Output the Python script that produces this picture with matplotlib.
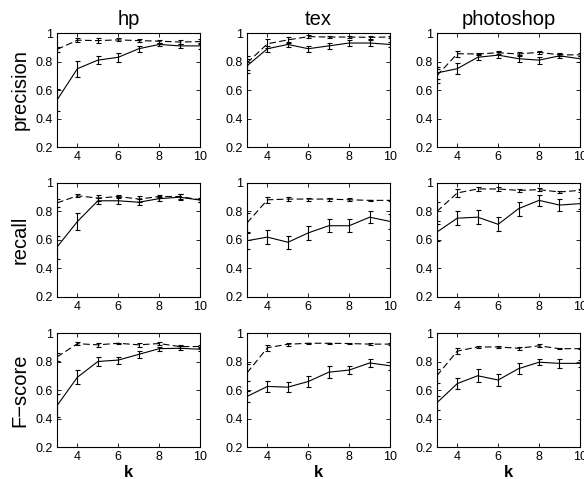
import matplotlib
matplotlib.use('Agg')
import matplotlib.pyplot as plt

# k values (x axis)
k = [3, 4, 5, 6, 7, 8, 9, 10]

datasets = ['hp', 'tex', 'photoshop']
metrics = ['precision', 'recall', 'F\u2212score']

# solid line series (mean, error) per metric / dataset
solid = {
    ('precision', 'hp'): [0.53, 0.75, 0.81, 0.83, 0.89, 0.92, 0.91, 0.91],
    ('precision', 'tex'): [0.77, 0.89, 0.92, 0.89, 0.91, 0.93, 0.93, 0.92],
    ('precision', 'photoshop'): [0.72, 0.75, 0.83, 0.845, 0.82, 0.81, 0.84, 0.82],
    ('recall', 'hp'): [0.55, 0.73, 0.875, 0.875, 0.865, 0.89, 0.9, 0.88],
    ('recall', 'tex'): [0.595, 0.62, 0.584, 0.65, 0.70, 0.70, 0.76, 0.73],
    ('recall', 'photoshop'): [0.655, 0.753, 0.76, 0.71, 0.82, 0.878, 0.845, 0.855],
    ('F\u2212score', 'hp'): [0.49, 0.69, 0.80, 0.81, 0.85, 0.89, 0.893, 0.886],
    ('F\u2212score', 'tex'): [0.555, 0.625, 0.62, 0.66, 0.725, 0.74, 0.79, 0.77],
    ('F\u2212score', 'photoshop'): [0.51, 0.645, 0.70, 0.67, 0.75, 0.795, 0.787, 0.787],
}
solid_err = {
    ('precision', 'hp'): [0.075, 0.055, 0.03, 0.03, 0.02, 0.012, 0.015, 0.02],
    ('precision', 'tex'): [0.05, 0.02, 0.02, 0.02, 0.02, 0.02, 0.02, 0.02],
    ('precision', 'photoshop'): [0.04, 0.04, 0.02, 0.02, 0.025, 0.025, 0.015, 0.02],
    ('recall', 'hp'): [0.08, 0.06, 0.02, 0.025, 0.02, 0.015, 0.02, 0.015],
    ('recall', 'tex'): [0.06, 0.05, 0.045, 0.05, 0.045, 0.045, 0.04, 0.05],
    ('recall', 'photoshop'): [0.06, 0.05, 0.05, 0.05, 0.05, 0.04, 0.04, 0.04],
    ('F\u2212score', 'hp'): [0.08, 0.05, 0.03, 0.025, 0.025, 0.015, 0.015, 0.015],
    ('F\u2212score', 'tex'): [0.04, 0.04, 0.035, 0.04, 0.04, 0.03, 0.03, 0.03],
    ('F\u2212score', 'photoshop'): [0.05, 0.04, 0.045, 0.045, 0.04, 0.02, 0.03, 0.025],
}

# dashed line series
dashed = {
    ('precision', 'hp'): [0.885, 0.95, 0.947, 0.952, 0.947, 0.943, 0.937, 0.94],
    ('precision', 'tex'): [0.79, 0.925, 0.952, 0.975, 0.972, 0.972, 0.97, 0.972],
    ('precision', 'photoshop'): [0.70, 0.855, 0.853, 0.862, 0.853, 0.865, 0.847, 0.847],
    ('recall', 'hp'): [0.86, 0.91, 0.894, 0.905, 0.887, 0.905, 0.905, 0.882],
    ('recall', 'tex'): [0.72, 0.882, 0.887, 0.887, 0.887, 0.882, 0.878, 0.878],
    ('recall', 'photoshop'): [0.80, 0.93, 0.958, 0.958, 0.948, 0.953, 0.937, 0.948],
    ('F\u2212score', 'hp'): [0.832, 0.925, 0.917, 0.928, 0.917, 0.926, 0.905, 0.905],
    ('F\u2212score', 'tex'): [0.72, 0.897, 0.921, 0.928, 0.928, 0.926, 0.922, 0.922],
    ('F\u2212score', 'photoshop'): [0.70, 0.873, 0.902, 0.902, 0.893, 0.91, 0.89, 0.89],
}
dashed_err = {
    ('precision', 'hp'): [0.02, 0.015, 0.015, 0.01, 0.01, 0.01, 0.015, 0.015],
    ('precision', 'tex'): [0.05, 0.03, 0.02, 0.01, 0.01, 0.01, 0.01, 0.01],
    ('precision', 'photoshop'): [0.05, 0.02, 0.01, 0.01, 0.015, 0.01, 0.01, 0.01],
    ('recall', 'hp'): [0.03, 0.01, 0.02, 0.01, 0.02, 0.01, 0.015, 0.015],
    ('recall', 'tex'): [0.07, 0.02, 0.015, 0.01, 0.01, 0.01, 0.005, 0.005],
    ('recall', 'photoshop'): [0.07, 0.03, 0.015, 0.015, 0.01, 0.01, 0.01, 0.01],
    ('F\u2212score', 'hp'): [0.03, 0.01, 0.015, 0.005, 0.015, 0.01, 0.01, 0.01],
    ('F\u2212score', 'tex'): [0.06, 0.02, 0.01, 0.005, 0.005, 0.005, 0.005, 0.005],
    ('F\u2212score', 'photoshop'): [0.05, 0.02, 0.01, 0.01, 0.01, 0.01, 0.005, 0.005],
}

plt.rcParams['font.family'] = ['Liberation Sans', 'DejaVu Sans']

fig = plt.figure(figsize=(5.84, 4.79), dpi=100)

lefts = [0.0976, 0.423, 0.748]
bottoms = [0.693, 0.380, 0.0668]
w, h = 0.245, 0.238

for r, m in enumerate(metrics):
    for c, d in enumerate(datasets):
        ax = fig.add_axes([lefts[c], bottoms[r], w, h])
        ax.errorbar(k, dashed[(m, d)], yerr=dashed_err[(m, d)], color='black',
                    linestyle=(0, (6, 3)), linewidth=0.8, elinewidth=0.8,
                    capsize=1.8, capthick=0.8)
        ax.errorbar(k, solid[(m, d)], yerr=solid_err[(m, d)], color='black',
                    linestyle='-', linewidth=0.8, elinewidth=0.8,
                    capsize=1.8, capthick=0.8)
        ax.set_xlim(3, 10)
        ax.set_ylim(0.2, 1)
        ax.set_xticks([4, 6, 8, 10])
        ax.set_yticks([0.2, 0.4, 0.6, 0.8, 1])
        ax.set_yticklabels(['0.2', '0.4', '0.6', '0.8', '1'])
        ax.tick_params(direction='in', top=True, right=True, length=3,
                       width=0.6, labelsize=9, pad=3)
        for s in ax.spines.values():
            s.set_linewidth(0.8)
        if r == 0:
            ax.set_title(d, fontsize=14.5, pad=6)
        if c == 0:
            ax.set_ylabel(m, fontsize=14.5)
            ax.yaxis.set_label_coords(-0.19, 0.5)
        if r == 2:
            ax.set_xlabel('k', fontsize=12, fontweight='bold', labelpad=1)

fig.savefig('out.png', dpi=100)
